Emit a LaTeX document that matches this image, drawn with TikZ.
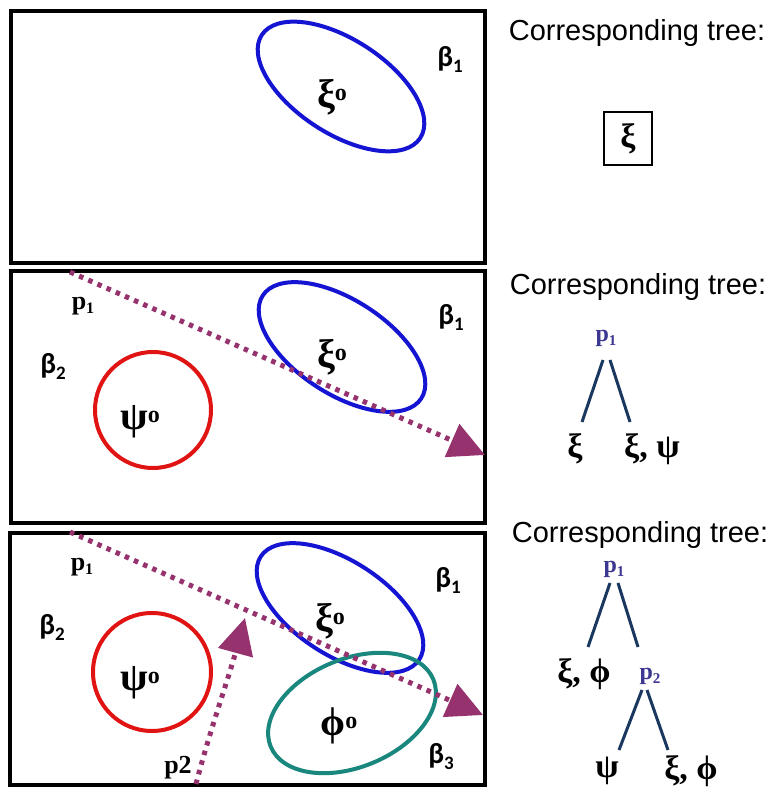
\documentclass[tikz,border=0pt]{standalone}
\usepackage{fontspec}
\setmainfont{Liberation Serif}
\newfontfamily\sansf{Liberation Sans}
\newfontfamily\calf{Carlito}
\usetikzlibrary{arrows.meta}
\definecolor{ellblue}{RGB}{20,20,210}
\definecolor{ellred}{RGB}{225,20,20}
\definecolor{ellteal}{RGB}{25,135,125}
\definecolor{arrowpurple}{RGB}{150,50,110}
\definecolor{treep}{RGB}{60,55,145}
\definecolor{treeline}{RGB}{25,55,95}
\newcommand{\bsub}[2]{#1\raisebox{-6pt}{\fontsize{19}{19}\selectfont #2}}
\newcommand{\psub}[2]{#1\raisebox{-4pt}{\fontsize{16}{16}\selectfont #2}}
\newcommand{\tpsub}[2]{#1\raisebox{-4pt}{\fontsize{15}{15}\selectfont #2}}
\newcommand{\gsup}[1]{#1\raisebox{7pt}{\fontsize{24}{24}\selectfont o}}
\tikzset{
  panelbox/.style={draw=black, line width=4pt},
  region/.style={line width=4pt},
  blab/.style={font=\calf\bfseries\fontsize{29}{29}\selectfont, inner sep=0pt},
  glab/.style={font=\bfseries\fontsize{40}{40}\selectfont, inner sep=0pt},
  plab/.style={font=\bfseries\fontsize{26}{26}\selectfont, inner sep=0pt},
  pathline/.style={draw=arrowpurple, line width=5pt, dash pattern=on 4.5pt off 5.5pt,
    -{Triangle[length=36pt,width=35pt]}},
  ctitle/.style={font=\sansf\fontsize{29}{29}\selectfont, inner sep=0pt},
  ttext/.style={font=\bfseries\fontsize{34}{34}\selectfont, inner sep=1pt},
  tp/.style={font=\bfseries\fontsize{24}{24}\selectfont, text=treep, inner sep=1pt},
  tl/.style={draw=treeline, line width=3pt}
}
\begin{document}
\begin{tikzpicture}[x=1pt,y=1pt]
\useasboundingbox (0,0) rectangle (777,794);
\fill[white] (0,0) rectangle (777,794);

% ---------- Panel 1 ----------
\draw[panelbox] (11,783) rectangle (485,531);
\draw[region, ellblue, rotate around={-33:(341,707.5)}] (341,707.5) ellipse [x radius=94.5, y radius=47];
\node[glab] (xi1) at (332,697) {\gsup{ξ}};
\node[blab] (b11) at (450,734) {\bsub{β}{1}};

% ---------- Panel 2 ----------
\draw[panelbox] (11,523) rectangle (485,271);
\draw[region, ellblue, rotate around={-33:(342,447)}] (342,447) ellipse [x radius=94.5, y radius=47];
\draw[region, ellred] (153,384) circle [radius=58];
\node[glab] (xi2) at (332,437) {\gsup{ξ}};
\node[glab] (psi2) at (140,372) {\gsup{ψ}};
\node[blab] (b12) at (451,476) {\bsub{β}{1}};
\node[blab] (b22) at (53,427) {\bsub{β}{2}};
\node[plab] (p12) at (83,488) {\psub{p}{1}};
\coordinate (a2s) at (70,522);
\coordinate (a2e) at (485,339);
\draw[pathline] (a2s) -- (a2e);

% ---------- Panel 3 ----------
\draw[panelbox] (10,261) rectangle (485,9);
\draw[region, ellblue, rotate around={-33:(340,186)}] (340,186) ellipse [x radius=94.5, y radius=47];
\draw[region, ellteal, rotate around={22.5:(352,81)}] (352,81) ellipse [x radius=88, y radius=54];
\draw[region, ellred] (152,122) circle [radius=59];
\node[glab] (xi3) at (330,173) {\gsup{ξ}};
\node[glab] (psi3) at (140,111) {\gsup{ψ}};
\node[glab] (phi3) at (339,68) {\gsup{ϕ}};
\node[blab] (b13) at (448,214) {\bsub{β}{1}};
\node[blab] (b23) at (52,167) {\bsub{β}{2}};
\node[blab] (b33) at (441,37) {\bsub{β}{3}};
\node[plab] (p13) at (82,227) {\psub{p}{1}};
\node[plab] (p23) at (178,26) {p2};
\coordinate (a3s) at (70,262);
\coordinate (a3e) at (483,79);
\draw[pathline] (a3s) -- (a3e);
\coordinate (b3s) at (196,10);
\coordinate (b3e) at (245,176);
\draw[pathline] (b3s) .. controls (210,64) and (228,114) .. (b3e);

% ---------- Trees ----------
\node[ctitle] (ct1) at (637,761) {Corresponding tree:};
\node[draw=black, line width=1.2pt, minimum width=48pt, minimum height=53pt, inner sep=0pt,
      font=\bfseries\fontsize{34}{34}\selectfont] (t1) at (628,655.5) {ξ};

\node[ctitle] (ct2) at (638,507) {Corresponding tree:};
\node[tp] (t2p) at (606,456) {\tpsub{p}{1}};
\node[ttext] (t2l) at (575,345) {ξ};
\node[ttext] (t2r) at (652,345) {ξ, ψ};
\draw[tl] ([shift={(-3,-22)}]t2p.center) -- ([shift={(7,27)}]t2l.center);
\draw[tl] ([shift={(4,-22)}]t2p.center) -- ([shift={(-22,27)}]t2r.center);

\node[ctitle] (ct3) at (640,259) {Corresponding tree:};
\node[tp] (t3p1) at (614,225) {\tpsub{p}{1}};
\node[ttext] (t3l) at (584,120) {ξ, ϕ};
\node[tp] (t3p2) at (650,118) {\tpsub{p}{2}};
\node[ttext] (t3a) at (607,23) {ψ};
\node[ttext] (t3b) at (691,23) {ξ, ϕ};
\draw[tl] ([shift={(-4,-14)}]t3p1.center) -- ([shift={(4,27)}]t3l.center);
\draw[tl] ([shift={(4,-14)}]t3p1.center) -- ([shift={(-12,29)}]t3p2.center);
\draw[tl] ([shift={(-8,-14)}]t3p2.center) -- ([shift={(12,21)}]t3a.center);
\draw[tl] ([shift={(-3,-14)}]t3p2.center) -- ([shift={(-23,21)}]t3b.center);
\end{tikzpicture}
\end{document}
